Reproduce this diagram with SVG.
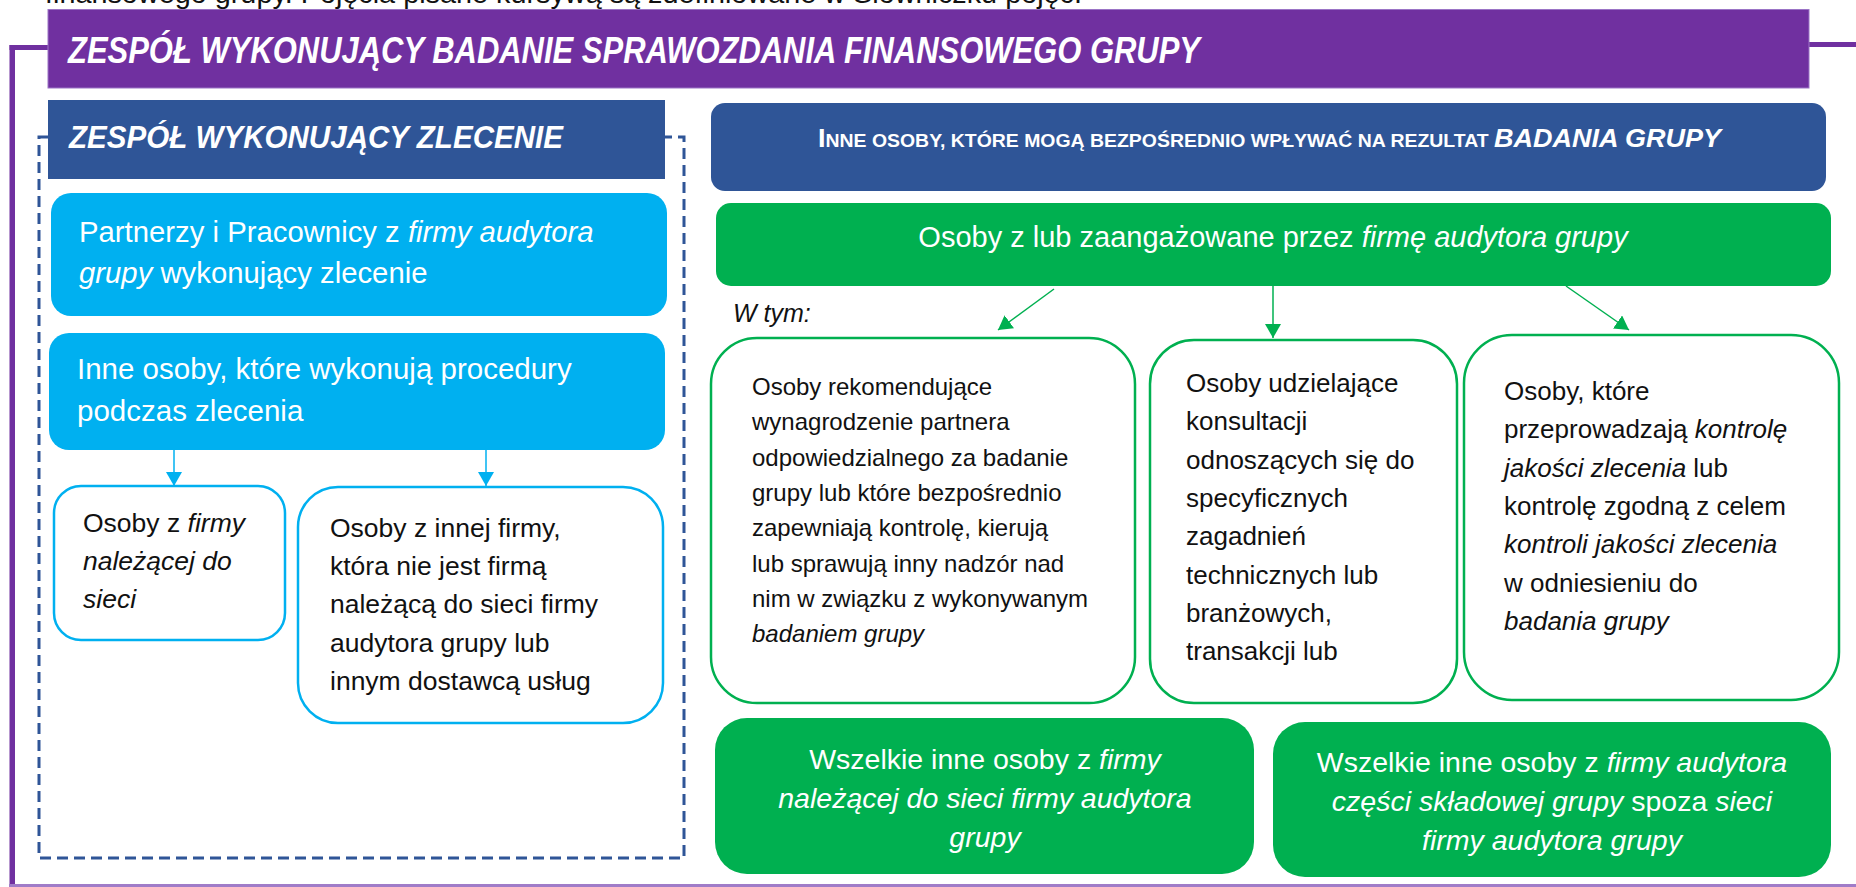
<svg xmlns="http://www.w3.org/2000/svg" width="1856" height="887" viewBox="0 0 1856 887">
<defs>
<style>
text{font-family:"Liberation Sans",Arial,sans-serif}
.w{fill:#fff}
.k{fill:#111}
.i{font-style:italic}
.b{font-weight:bold}
.bl{fill:#fff;stroke:#00B0F0;stroke-width:2.5}
.gr{fill:#fff;stroke:#00B050;stroke-width:2.5}
</style>
<marker id="ab" viewBox="0 0 14 16" refX="14" refY="8" markerWidth="14" markerHeight="16" markerUnits="userSpaceOnUse" orient="auto"><path d="M0,0 L14,8 L0,16 z" fill="#00B0F0"/></marker>
<marker id="ag" viewBox="0 0 14 16" refX="14" refY="8" markerWidth="14" markerHeight="16" markerUnits="userSpaceOnUse" orient="auto"><path d="M0,0 L14,8 L0,16 z" fill="#00B050"/></marker>
</defs>
<rect width="1856" height="887" fill="#fff"/>
<text x="45" y="3" font-size="28" fill="#111" textLength="1037" lengthAdjust="spacingAndGlyphs">finansowego grupy. Pojęcia pisane kursywą są zdefiniowane w Słowniczku pojęć.</text>
<g id="frame">
<rect x="9.5" y="45" width="5.5" height="842" fill="#7030A0"/>
<rect x="9.5" y="45" width="39" height="5" fill="#7030A0"/>
<rect x="1809" y="42" width="47" height="5" fill="#7030A0"/>
<rect x="9" y="884" width="1847" height="3" fill="#A07CC8"/>
</g>
<g id="group-team">
<rect x="48" y="9.5" width="1761" height="78.5" fill="#7030A0" stroke="#9B74C6" stroke-width="1"/>
<text x="68" y="63" font-size="36" class="w b i" textLength="1132" lengthAdjust="spacingAndGlyphs">ZESPÓŁ WYKONUJĄCY BADANIE SPRAWOZDANIA FINANSOWEGO GRUPY</text>
</g>
<g id="engagement-team">
<path d="M48,137 H39 V858 H684 V137 H665" fill="none" stroke="#2F5597" stroke-width="3" stroke-dasharray="11 6"/>
<rect x="48" y="100" width="617" height="79" fill="#2F5597"/>
<text x="69" y="148" font-size="32" class="w b i" textLength="494" lengthAdjust="spacingAndGlyphs">ZESPÓŁ WYKONUJĄCY ZLECENIE</text>
</g>
<g id="partners">
<rect x="51" y="193" width="616" height="123" rx="20" fill="#00B0F0"/>
<text x="79" y="242" font-size="29.3" class="w">Partnerzy i Pracownicy z <tspan class="i">firmy audytora</tspan></text>
<text x="79" y="283" font-size="29.3" class="w"><tspan class="i">grupy</tspan> wykonujący zlecenie</text>
</g>
<g id="others-procedures">
<rect x="49" y="333" width="616" height="117" rx="20" fill="#00B0F0"/>
<text x="77" y="379" font-size="29.5" class="w">Inne osoby, które wykonują procedury</text>
<text x="77" y="421" font-size="29.5" class="w">podczas zlecenia</text>
</g>
<g id="network-firm">
<rect x="54" y="486" width="231" height="154" rx="27" class="bl"/>
<text x="83" y="532" font-size="26.5" class="k">Osoby z <tspan class="i">firmy</tspan></text>
<text x="83" y="570" font-size="26.5" class="k i">należącej do</text>
<text x="83" y="608" font-size="26.5" class="k i">sieci</text>
</g>
<g id="other-firm">
<rect x="298" y="487" width="365" height="236" rx="40" class="bl"/>
<text x="330" y="537" font-size="26.5" class="k">Osoby z innej firmy,</text>
<text x="330" y="575" font-size="26.5" class="k">która nie jest firmą</text>
<text x="330" y="613" font-size="26.5" class="k">należącą do sieci firmy</text>
<text x="330" y="652" font-size="26.5" class="k">audytora grupy lub</text>
<text x="330" y="690" font-size="26.5" class="k">innym dostawcą usług</text>
</g>
<g id="others-influence">
<rect x="711" y="103" width="1115" height="88" rx="14" fill="#2F5597"/>
<text x="818" y="147" class="w b" textLength="903" lengthAdjust="spacingAndGlyphs"><tspan font-size="25">I</tspan><tspan font-size="18">NNE OSOBY, KTÓRE MOGĄ BEZPOŚREDNIO WPŁYWAĆ NA REZULTAT </tspan><tspan font-size="25" class="i">BADANIA GRUPY</tspan></text>
</g>
<g id="firm-persons">
<rect x="716" y="203" width="1115" height="83" rx="15" fill="#00B050"/>
<text x="1273" y="247" font-size="29" class="w" text-anchor="middle">Osoby z lub zaangażowane przez <tspan class="i">firmę audytora grupy</tspan></text>
</g>
<text id="w-tym" x="733" y="322" font-size="25" class="k i">W tym:</text>
<g id="remuneration">
<rect x="711" y="338" width="424" height="365" rx="46" class="gr"/>
<text x="752" y="395" font-size="24" class="k">Osoby rekomendujące</text>
<text x="752" y="430.3" font-size="24" class="k">wynagrodzenie partnera</text>
<text x="752" y="465.6" font-size="24" class="k">odpowiedzialnego za badanie</text>
<text x="752" y="500.9" font-size="24" class="k">grupy lub które bezpośrednio</text>
<text x="752" y="536.2" font-size="24" class="k">zapewniają kontrolę, kierują</text>
<text x="752" y="571.5" font-size="24" class="k">lub sprawują inny nadzór nad</text>
<text x="752" y="606.8" font-size="24" class="k">nim w związku z wykonywanym</text>
<text x="752" y="642.1" font-size="24" class="k i">badaniem grupy</text>
</g>
<g id="consultation">
<rect x="1150" y="340" width="307" height="363" rx="44" class="gr"/>
<text x="1186" y="392" font-size="26" class="k">Osoby udzielające</text>
<text x="1186" y="430.3" font-size="26" class="k">konsultacji</text>
<text x="1186" y="468.6" font-size="26" class="k">odnoszących się do</text>
<text x="1186" y="506.9" font-size="26" class="k">specyficznych</text>
<text x="1186" y="545.2" font-size="26" class="k">zagadnień</text>
<text x="1186" y="583.5" font-size="26" class="k">technicznych lub</text>
<text x="1186" y="621.8" font-size="26" class="k">branżowych,</text>
<text x="1186" y="660.1" font-size="26" class="k">transakcji lub</text>
</g>
<g id="quality-review">
<rect x="1464" y="335" width="375" height="365" rx="48" class="gr"/>
<text x="1504" y="400" font-size="26" class="k">Osoby, które</text>
<text x="1504" y="438.3" font-size="26" class="k">przeprowadzają <tspan class="i">kontrolę</tspan></text>
<text x="1504" y="476.6" font-size="26" class="k"><tspan class="i">jakości zlecenia</tspan> lub</text>
<text x="1504" y="514.9" font-size="26" class="k">kontrolę zgodną z celem</text>
<text x="1504" y="553.2" font-size="26" class="k i">kontroli jakości zlecenia</text>
<text x="1504" y="591.5" font-size="26" class="k">w odniesieniu do</text>
<text x="1504" y="629.8" font-size="26" class="k i">badania grupy</text>
</g>
<g id="network-others">
<rect x="715" y="718" width="539" height="156" rx="32" fill="#00B050"/>
<text x="985" y="769" font-size="28.5" class="w" text-anchor="middle">Wszelkie inne osoby z <tspan class="i">firmy</tspan></text>
<text x="985" y="808" font-size="28.5" class="w i" text-anchor="middle">należącej do sieci firmy audytora</text>
<text x="985" y="847" font-size="28.5" class="w i" text-anchor="middle">grupy</text>
</g>
<g id="component-others">
<rect x="1273" y="722" width="558" height="155" rx="32" fill="#00B050"/>
<text x="1552" y="772" font-size="28.5" class="w" text-anchor="middle">Wszelkie inne osoby z <tspan class="i">firmy audytora</tspan></text>
<text x="1552" y="811" font-size="28.5" class="w" text-anchor="middle"><tspan class="i">części składowej grupy</tspan> spoza <tspan class="i">sieci</tspan></text>
<text x="1552" y="850" font-size="28.5" class="w i" text-anchor="middle">firmy audytora grupy</text>
</g>
<g id="connectors" fill="none" stroke-width="1.5">
<line x1="174" y1="450" x2="174" y2="486" stroke="#00B0F0" marker-end="url(#ab)"/>
<line x1="486" y1="450" x2="486" y2="486" stroke="#00B0F0" marker-end="url(#ab)"/>
<line x1="1054" y1="289" x2="998" y2="330" stroke="#00B050" marker-end="url(#ag)"/>
<line x1="1273" y1="286" x2="1273" y2="338" stroke="#00B050" marker-end="url(#ag)"/>
<line x1="1566" y1="286" x2="1629" y2="330" stroke="#00B050" marker-end="url(#ag)"/>
</g>
</svg>
